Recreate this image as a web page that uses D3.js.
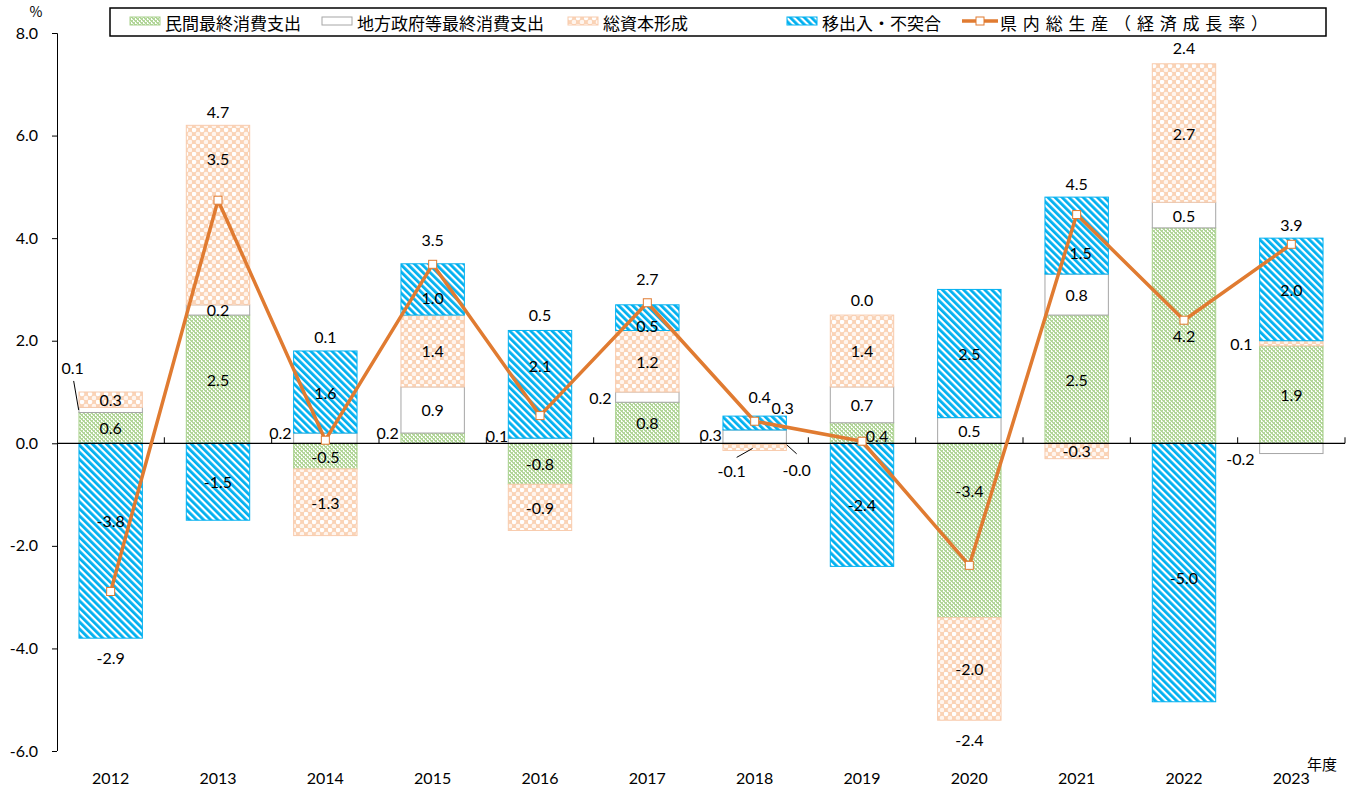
<!DOCTYPE html>
<html><head><meta charset="utf-8">
<script src="https://cdn.jsdelivr.net/npm/d3@7"></script>
<style>body{margin:0;background:#fff}svg{display:block}</style>
</head><body><svg id="c" width="1355" height="791"></svg>
<script>
// ---- data ----
const years = ["2012","2013","2014","2015","2016","2017","2018","2019","2020","2021","2022","2023"];
const privateCons = [0.6, 2.5, -0.5, 0.2, -0.8, 0.8, -0.02, 0.4, -3.4, 2.5, 4.2, 1.9];
const govCons     = [0.1, 0.2, 0.2, 0.9, 0.1, 0.2, 0.26, 0.7, 0.5, 0.8, 0.5, -0.2];
const capital     = [0.3, 3.5, -1.3, 1.4, -0.9, 1.2, -0.12, 1.4, -2.0, -0.3, 2.7, 0.1];
const netExports  = [-3.8, -1.5, 1.6, 1.0, 2.1, 0.5, 0.27, -2.4, 2.5, 1.5, -5.04, 2.0];
const gdpGrowth   = [-2.89, 4.74, 0.06, 3.49, 0.54, 2.74, 0.43, 0.04, -2.38, 4.46, 2.4, 3.88];
const seriesNames = ["民間最終消費支出","地方政府等最終消費支出","総資本形成","移出入・不突合","県内総生産（経済成長率）"];
const yTicks = [-6,-4,-2,0,2,4,6,8];

// ---- layout ----
const svg = d3.select("#c");
const x = d3.scaleBand().domain(years).range([57, 1345]).paddingInner(0.4).paddingOuter(0.2);
const y = d3.scaleLinear().domain([-6, 8]).range([751, 33]);
const fmt = v => (v < 0 ? "-" : "") + Math.abs(v).toFixed(1);
const FONT = "Lato, 'Noto Sans', 'Liberation Sans', sans-serif";
const JFONT = "'Noto Sans CJK JP', sans-serif";

const defs = svg.append("defs");
// green dotted
const pg = defs.append("pattern").attr("id","pGreen").attr("width",4).attr("height",4).attr("patternUnits","userSpaceOnUse");
pg.append("rect").attr("width",4).attr("height",4).attr("fill","#b2d699");
pg.append("rect").attr("x",1).attr("y",0).attr("width",1).attr("height",2).attr("fill","#ffffff");
pg.append("rect").attr("x",3).attr("y",2).attr("width",1).attr("height",2).attr("fill","#ffffff");
pg.append("rect").attr("x",0).attr("y",3).attr("width",1).attr("height",1).attr("fill","#eef6e8");
pg.append("rect").attr("x",2).attr("y",1).attr("width",1).attr("height",1).attr("fill","#eef6e8");
// orange bubbles
const po = defs.append("pattern").attr("id","pOrange").attr("width",8).attr("height",8).attr("patternUnits","userSpaceOnUse");
po.append("rect").attr("width",8).attr("height",8).attr("fill","#fad3b6");
po.append("circle").attr("cx",2).attr("cy",2).attr("r",2.3).attr("fill","#ffffff");
po.append("circle").attr("cx",6).attr("cy",6).attr("r",2.3).attr("fill","#fff5ee");
// blue stripes
const pb = defs.append("pattern").attr("id","pBlue").attr("width",5).attr("height",5).attr("patternUnits","userSpaceOnUse").attr("patternTransform","rotate(-45)");
pb.append("rect").attr("width",5).attr("height",5).attr("fill","#ffffff");
pb.append("rect").attr("width",2.8).attr("height",5).attr("fill","#00b0f0");

const series = [
  {vals: privateCons, fill: "url(#pGreen)", stroke: "#a9d18e"},
  {vals: govCons,     fill: "#ffffff",      stroke: "#a6a6a6"},
  {vals: capital,     fill: "url(#pOrange)", stroke: "#f8cbad"},
  {vals: netExports,  fill: "url(#pBlue)",  stroke: "#00b0f0"}
];

// stacking (positives up, negatives down, in series order)
const segs = [];
const posTop = years.map(() => 0), negBot = years.map(() => 0);
series.forEach((s, si) => {
  s.vals.forEach((v, i) => {
    let y0, y1;
    if (v >= 0) { y0 = posTop[i]; y1 = y0 + v; posTop[i] = y1; }
    else { y0 = negBot[i]; y1 = y0 + v; negBot[i] = y1; }
    segs.push({si, i, v, y0, y1, s});
  });
});

// label nudges (pixels, relative to segment centre), keyed series-yearIndex
const nudge = {
  "1-0": {dx:-38, dy:-42, lead:[-37,-29,-32,0]},
  "3-0": {dx:0, dy:-20},
  "2-1": {dx:0, dy:-57},
  "1-2": {dx:-45, dy:-6},
  "0-3": {dx:-45, dy:-6},
  "3-3": {dx:0, dy:8},
  "1-4": {dx:-43, dy:-5},
  "3-4": {dx:0, dy:-19},
  "1-5": {dx:-47, dy:0},
  "3-5": {dx:0, dy:8},
  "1-6": {dx:-44, dy:-2},
  "3-6": {dx:28, dy:-16},
  "2-6": {dx:-23, dy:23, lead:[-18,10,-2,1]},
  "0-6": {dx:42, dy:26, lead:[32,1,42,10]},
  "0-7": {dx:15, dy:2},
  "0-8": {dx:0, dy:-40},
  "3-9": {dx:4, dy:17},
  "3-10": {dx:0, dy:5},
  "2-11": {dx:-50, dy:0},
  "1-11": {dx:-51, dy:10}
};
const totalNudge = {3: {dx:0, dy:-10}, 5: {dx:0, dy:-12}, 6: {dx:5, dy:-6}, 7: {dx:0, dy:-2}, 4: {dx:0, dy:-2}, 10: {dx:0, dy:-2}};

// bars
svg.append("g").selectAll("rect").data(segs).join("rect")
  .attr("x", d => x(years[d.i]) + 0.5)
  .attr("width", x.bandwidth() - 1)
  .attr("y", d => y(Math.max(d.y0, d.y1)))
  .attr("height", d => Math.abs(y(d.y0) - y(d.y1)))
  .attr("fill", d => d.s.fill)
  .attr("stroke", d => d.s.stroke)
  .attr("stroke-width", 1);

// axes
const yAxisG = svg.append("g").attr("transform","translate(57,0)")
  .call(d3.axisLeft(y).tickValues(yTicks).tickSize(5).tickFormat(d => d.toFixed(1)));
yAxisG.select(".domain").attr("stroke","#000").attr("d","M-5,33.5H0.5V751");
yAxisG.selectAll(".tick line").attr("stroke","#000");
yAxisG.selectAll(".tick text").attr("font-family",FONT).attr("font-size",16).attr("fill","#000").attr("x",-19);

// zero line with upward ticks at category boundaries
svg.append("line").attr("x1",57).attr("x2",1345).attr("y1",y(0)).attr("y2",y(0)).attr("stroke","#000").attr("stroke-width",1.2);
const step = x.step();
svg.append("g").selectAll("line").data(d3.range(1, years.length+1)).join("line")
  .attr("x1", d => 57 + d*step).attr("x2", d => 57 + d*step)
  .attr("y1", y(0)).attr("y2", y(0) - 6).attr("stroke","#000");

// year labels
svg.append("g").selectAll("text").data(years).join("text")
  .attr("x", d => x(d) + x.bandwidth()/2).attr("y", 784)
  .attr("text-anchor","middle").attr("font-family",FONT).attr("font-size",16).attr("fill","#000")
  .text(d => d);

svg.append("text").attr("x",36).attr("y",17).attr("text-anchor","middle").attr("font-family",JFONT).attr("font-size",14).text("%");
svg.append("text").attr("x",1322).attr("y",770).attr("text-anchor","middle").attr("font-family",JFONT).attr("font-size",15).text("年度");

// line
const cx = i => x(years[i]) + x.bandwidth()/2;
svg.append("path").datum(gdpGrowth)
  .attr("d", d3.line().x((d,i) => cx(i)).y(d => y(d)))
  .attr("fill","none").attr("stroke","#e07b31").attr("stroke-width",3.5).attr("stroke-linejoin","round");
svg.append("g").selectAll("rect").data(gdpGrowth).join("rect")
  .attr("x",(d,i) => cx(i) - 4).attr("y", d => y(d) - 4).attr("width",8).attr("height",8)
  .attr("fill","#fff").attr("stroke","#e07b31").attr("stroke-width",1);

// segment labels
const lg = svg.append("g");
segs.forEach(d => {
  const key = d.si + "-" + d.i;
  const n = nudge[key] || {dx:0, dy:0};
  const px = cx(d.i), py = y((d.y0 + d.y1)/2);
  if (n.lead) {
    lg.append("line").attr("x1",px+n.lead[0]).attr("y1",py+n.lead[1]).attr("x2",px+n.lead[2]).attr("y2",py+n.lead[3])
      .attr("stroke","#000").attr("stroke-width",1);
  }
  lg.append("text").attr("x", px + n.dx).attr("y", py + n.dy)
    .attr("text-anchor","middle").attr("dominant-baseline","central")
    .attr("font-family",FONT).attr("font-size",16).attr("fill","#000")
    .text(fmt(d.v));
});
// total labels
gdpGrowth.forEach((v, i) => {
  const n = totalNudge[i] || {dx:0, dy:0};
  const py = v >= 0 ? y(posTop[i]) - 14 : y(negBot[i]) + 19;
  lg.append("text").attr("x", cx(i) + n.dx).attr("y", py + n.dy)
    .attr("text-anchor","middle").attr("dominant-baseline","central")
    .attr("font-family",FONT).attr("font-size",16).attr("fill","#000")
    .text(fmt(v));
});

// legend
const leg = svg.append("g");
leg.append("rect").attr("x",110).attr("y",8).attr("width",1216).attr("height",28).attr("fill","#fff").attr("stroke","#000").attr("stroke-width",1.5);
const legX = [130, 322, 568, 787, 962];
const legFill = ["url(#pGreen)", "#ffffff", "url(#pOrange)", "url(#pBlue)"];
const legStroke = ["#a9d18e", "#a6a6a6", "#f8cbad", "#00b0f0"];
seriesNames.forEach((name, k) => {
  const lx = legX[k];
  if (k < 4) {
    leg.append("rect").attr("x",lx).attr("y",17).attr("width",30).attr("height",8)
      .attr("fill",legFill[k]).attr("stroke",legStroke[k]);
  } else {
    leg.append("line").attr("x1",lx).attr("x2",lx+36).attr("y1",21).attr("y2",21).attr("stroke","#e07b31").attr("stroke-width",3.5);
    leg.append("rect").attr("x",lx+14).attr("y",17).attr("width",8).attr("height",8).attr("fill","#fff").attr("stroke","#e07b31");
  }
  const t = leg.append("text").attr("x", lx + (k < 4 ? 35 : 38)).attr("y",22)
    .attr("dominant-baseline","central").attr("font-family",JFONT).attr("font-size",17).attr("fill","#000")
    .text(name);
  if (k === 4) t.attr("textLength", 268).attr("lengthAdjust","spacing");
});
</script>
</body></html>
